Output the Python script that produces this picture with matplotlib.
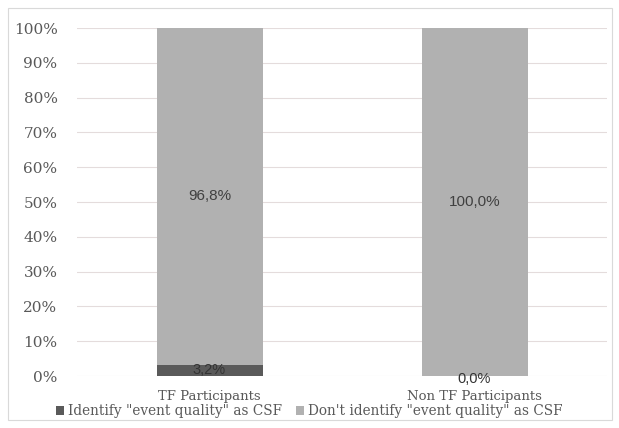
import matplotlib
matplotlib.use("Agg")
import matplotlib.pyplot as plt
from matplotlib.patches import Rectangle

categories = ["TF Participants", "Non TF Participants"]
identify = [3.2, 0.0]
dont_identify = [96.8, 100.0]
series_names = ['Identify "event quality" as CSF', 'Don\'t identify "event quality" as CSF']
yticks = [0, 10, 20, 30, 40, 50, 60, 70, 80, 90, 100]

dark = "#5a5a5a"
light = "#b1b1b1"
txt = "#595959"
serif = ["DejaVu Serif"]

fig = plt.figure(figsize=(6.19, 4.28), dpi=100)
fig.patches.append(Rectangle((8/619, 8/428), 604/619, 412/428, transform=fig.transFigure,
                             fill=False, edgecolor="#d9d9d9", linewidth=0.8))
ax = fig.add_axes([77/619, 52/428, 530/619, 348/428])
x = list(range(len(categories)))
b1 = ax.bar(x, identify, width=0.4, color=dark, label=series_names[0], zorder=3)
b2 = ax.bar(x, dont_identify, width=0.4, bottom=identify, color=light, label=series_names[1], zorder=3)

ax.set_xlim(-0.5, 1.5)
ax.set_ylim(0, 100)
ax.set_yticks(yticks)
ax.set_yticklabels([f"{v}%" for v in yticks], family=serif, fontsize=11, color=txt)
ax.set_xticks(x)
ax.set_xticklabels(categories, family=serif, fontsize=9.5, color=txt)
ax.tick_params(length=0, pad=14, axis="y")
ax.tick_params(length=0, pad=10, axis="x")
for s in ax.spines.values():
    s.set_visible(False)
ax.grid(axis="y", color="#e4dcdc", linewidth=0.8, zorder=0)

for i in x:
    v1 = identify[i]
    v2 = dont_identify[i]
    ax.text(i, v1 / 2 if v1 > 0 else -0.8, f"{v1:.1f}%".replace(".", ","), ha="center", va="center",
            fontsize=10.5, color="#333333", family=["Liberation Sans"], zorder=4)
    ax.text(i, v1 + v2 / 2, f"{v2:.1f}%".replace(".", ","), ha="center", va="center",
            fontsize=11, color="#404040", family=["Liberation Sans"], zorder=4)

leg = fig.legend(handles=[b1, b2], labels=series_names, loc="lower center", ncol=2,
                 bbox_to_anchor=(0.5, -0.006), frameon=False, handlelength=0.6, handleheight=0.6,
                 handletextpad=0.3, columnspacing=1.0, prop={"family": serif, "size": 9.8})
for t in leg.get_texts():
    t.set_color(txt)

fig.savefig("out.png", dpi=100)
